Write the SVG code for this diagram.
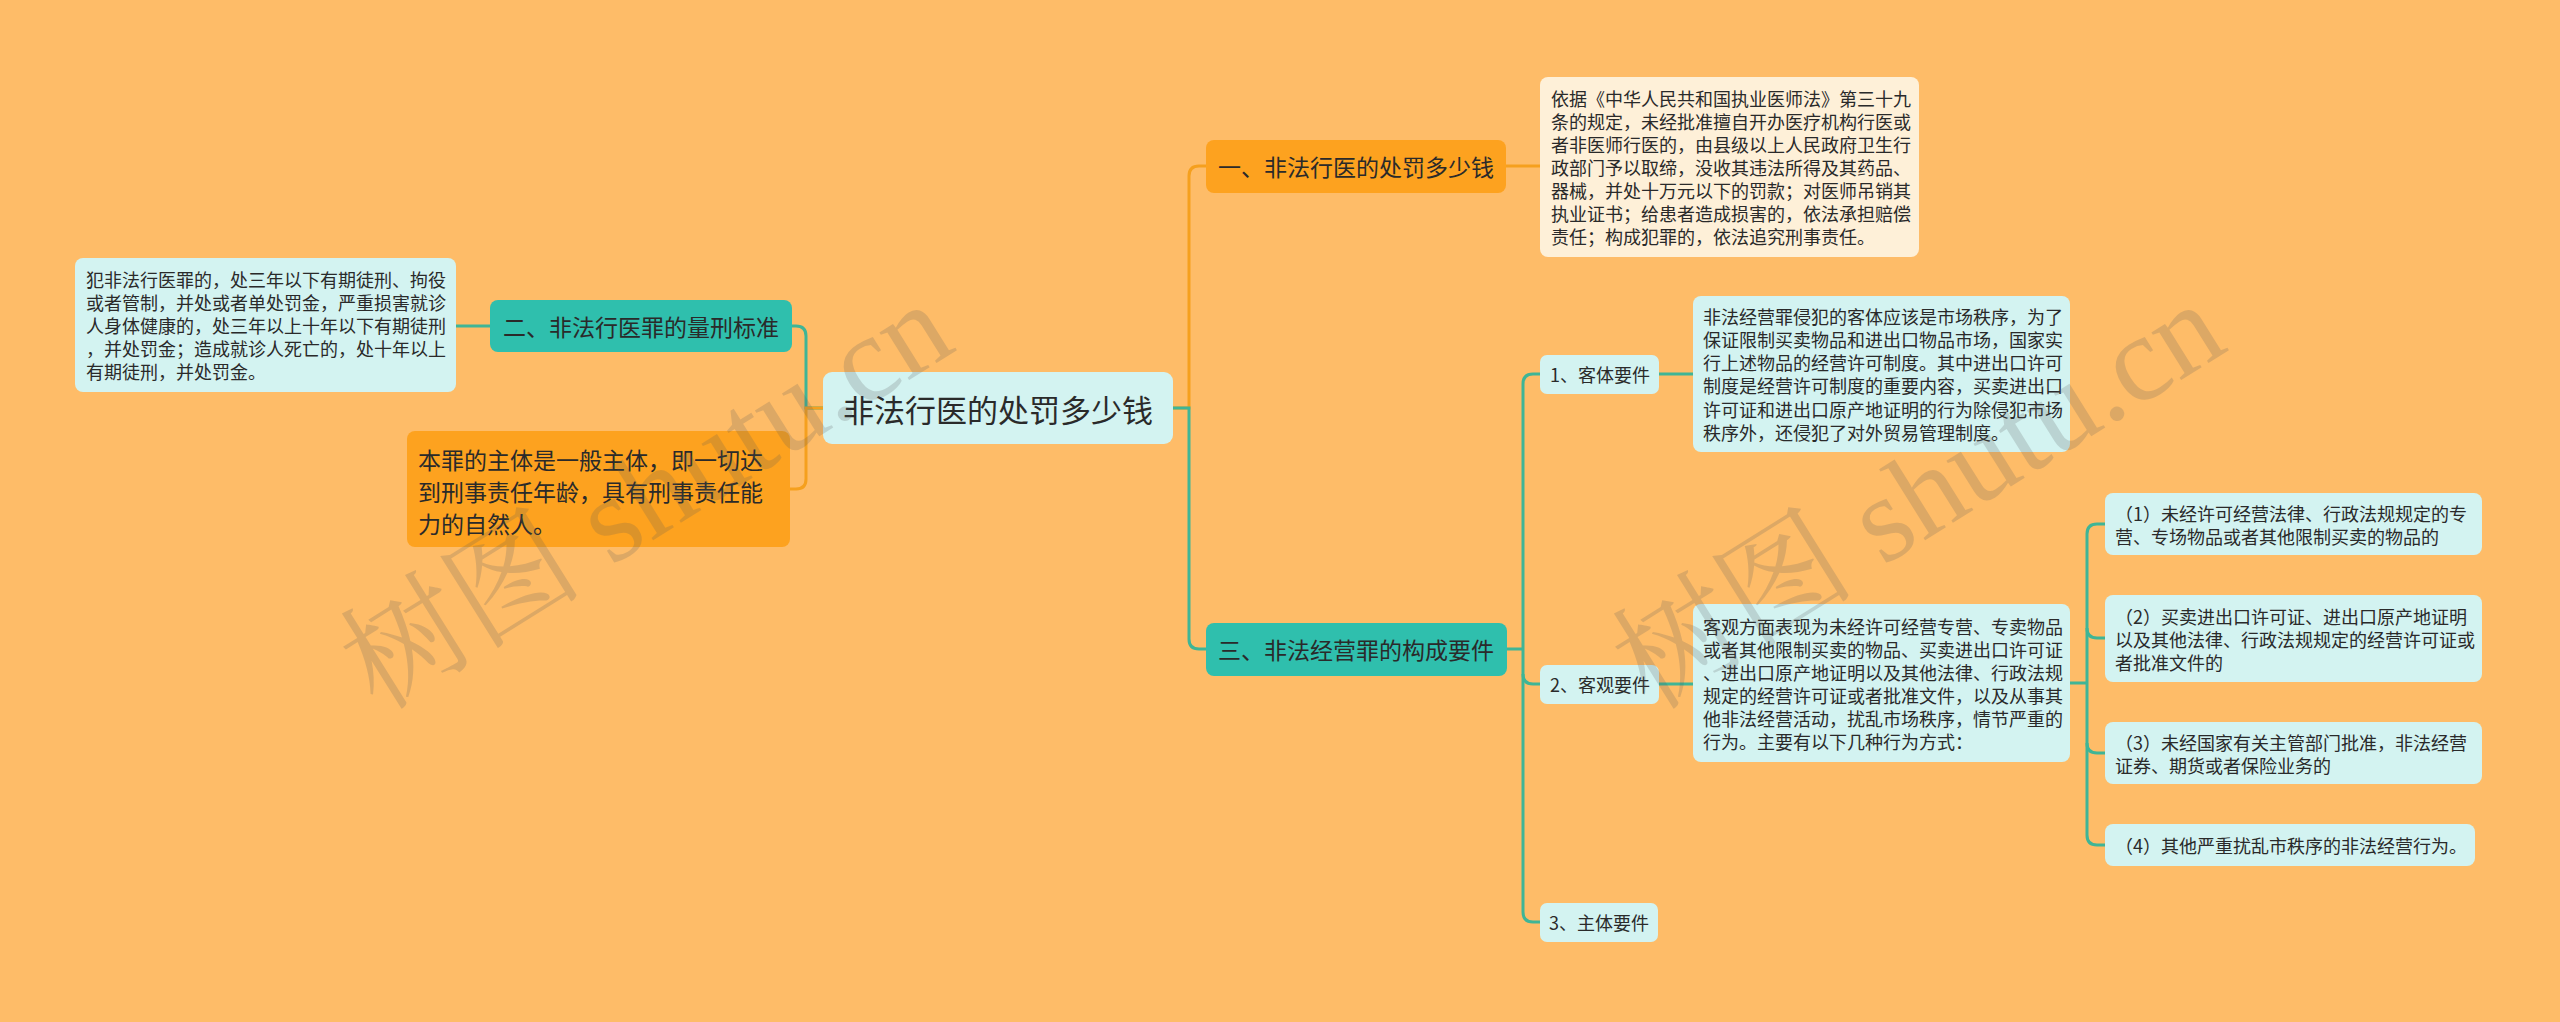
<svg xmlns="http://www.w3.org/2000/svg" width="2560" height="1022" viewBox="0 0 2560 1022">
<style>
text{font-family:"Noto Sans CJK SC","Noto Sans",sans-serif;fill:#2a2a2a;dominant-baseline:central}
.t18{font-size:18px}
.t23{font-size:23px}
.t31{font-size:31px}
.cyan{fill:#d3f3f1}
.cream{fill:#fef0d8}
.teal{fill:#2fbfad}
.orng{fill:#fda21f}
.lt{stroke:#3fb596;stroke-width:3;fill:none}
.lo{stroke:#f5a01e;stroke-width:3;fill:none}
.wm{font-family:"Liberation Serif","Noto Serif CJK SC","Noto Sans CJK SC",serif;font-size:122px;fill:#5a5a5a;opacity:0.2;dominant-baseline:auto}
</style>
<rect width="2560" height="1022" fill="#febc68"/>
<g id="connectors">
<path class="lo" d="M1173,408 H1189 V176 Q1189,166 1199,166 H1206"/>
<path class="lt" d="M1173,408 H1189 V639 Q1189,649 1199,649 H1206"/>
<path class="lt" d="M823,408 H806 V336 Q806,326 796,326 H792"/>
<path class="lo" d="M823,408 H806 V479 Q806,489 796,489 H790"/>
<path class="lt" d="M490,326 H456"/>
<path class="lo" d="M1506,166 H1540"/>
<path class="lt" d="M1507,649 H1523"/>
<path class="lt" d="M1540,374 H1533 Q1523,374 1523,384 V912 Q1523,922 1533,922 H1540"/>
<path class="lt" d="M1523,674 Q1523,684 1533,684 H1540"/>
<path class="lt" d="M1659,374 H1693"/>
<path class="lt" d="M1659,684 H1693"/>
<path class="lt" d="M2070,683 H2087"/>
<path class="lt" d="M2105,524 H2097 Q2087,524 2087,534 V835 Q2087,845 2097,845 H2105"/>
<path class="lt" d="M2087,628 Q2087,638 2097,638 H2105"/>
<path class="lt" d="M2087,743 Q2087,753 2097,753 H2105"/>
</g>
<g id="root">
<rect class="cyan" x="823" y="372" width="350" height="72" rx="9"/>
<text class="t31" x="998" y="408" text-anchor="middle">非法行医的处罚多少钱</text>
</g>
<g id="branch1">
<rect class="orng" x="1206" y="140" width="300" height="53" rx="8"/>
<text class="t23" x="1356" y="166" text-anchor="middle">一、非法行医的处罚多少钱</text>
</g>
<g id="leaf1">
<rect class="cream" x="1540" y="77" width="379" height="180" rx="8"/>
<text class="t18" x="1551" y="98">依据《中华人民共和国执业医师法》第三十九</text>
<text class="t18" x="1551" y="121">条的规定，未经批准擅自开办医疗机构行医或</text>
<text class="t18" x="1551" y="144">者非医师行医的，由县级以上人民政府卫生行</text>
<text class="t18" x="1551" y="167">政部门予以取缔，没收其违法所得及其药品、</text>
<text class="t18" x="1551" y="190">器械，并处十万元以下的罚款；对医师吊销其</text>
<text class="t18" x="1551" y="213">执业证书；给患者造成损害的，依法承担赔偿</text>
<text class="t18" x="1551" y="236">责任；构成犯罪的，依法追究刑事责任。</text>
</g>
<g id="branch2">
<rect class="teal" x="490" y="300" width="302" height="52" rx="8"/>
<text class="t23" x="641" y="326" text-anchor="middle">二、非法行医罪的量刑标准</text>
</g>
<g id="leaf2">
<rect class="cyan" x="75" y="258" width="381" height="134" rx="8"/>
<text class="t18" x="86" y="279">犯非法行医罪的，处三年以下有期徒刑、拘役</text>
<text class="t18" x="86" y="302">或者管制，并处或者单处罚金，严重损害就诊</text>
<text class="t18" x="86" y="325">人身体健康的，处三年以上十年以下有期徒刑</text>
<text class="t18" x="86" y="348">，并处罚金；造成就诊人死亡的，处十年以上</text>
<text class="t18" x="86" y="371">有期徒刑，并处罚金。</text>
</g>
<g id="leaf-subject">
<rect class="orng" x="407" y="431" width="383" height="116" rx="8"/>
<text class="t23" x="418" y="459">本罪的主体是一般主体，即一切达</text>
<text class="t23" x="418" y="491">到刑事责任年龄，具有刑事责任能</text>
<text class="t23" x="418" y="523">力的自然人。</text>
</g>
<g id="branch3">
<rect class="teal" x="1206" y="623" width="301" height="53" rx="8"/>
<text class="t23" x="1356" y="649" text-anchor="middle">三、非法经营罪的构成要件</text>
</g>
<g id="c1">
<rect class="cyan" x="1540" y="355" width="119" height="39" rx="7"/>
<text class="t18" x="1600" y="374" text-anchor="middle">1、客体要件</text>
</g>
<g id="c1-leaf">
<rect class="cyan" x="1693" y="296" width="377" height="156" rx="8"/>
<text class="t18" x="1703" y="316">非法经营罪侵犯的客体应该是市场秩序，为了</text>
<text class="t18" x="1703" y="339">保证限制买卖物品和进出口物品市场，国家实</text>
<text class="t18" x="1703" y="362">行上述物品的经营许可制度。其中进出口许可</text>
<text class="t18" x="1703" y="385">制度是经营许可制度的重要内容，买卖进出口</text>
<text class="t18" x="1703" y="409">许可证和进出口原产地证明的行为除侵犯市场</text>
<text class="t18" x="1703" y="432">秩序外，还侵犯了对外贸易管理制度。</text>
</g>
<g id="c2">
<rect class="cyan" x="1540" y="665" width="119" height="39" rx="7"/>
<text class="t18" x="1600" y="684" text-anchor="middle">2、客观要件</text>
</g>
<g id="c2-leaf">
<rect class="cyan" x="1693" y="604" width="377" height="158" rx="8"/>
<text class="t18" x="1703" y="626">客观方面表现为未经许可经营专营、专卖物品</text>
<text class="t18" x="1703" y="649">或者其他限制买卖的物品、买卖进出口许可证</text>
<text class="t18" x="1703" y="672">、进出口原产地证明以及其他法律、行政法规</text>
<text class="t18" x="1703" y="695">规定的经营许可证或者批准文件，以及从事其</text>
<text class="t18" x="1703" y="718">他非法经营活动，扰乱市场秩序，情节严重的</text>
<text class="t18" x="1703" y="741">行为。主要有以下几种行为方式：</text>
</g>
<g id="s1">
<rect class="cyan" x="2105" y="493" width="377" height="62" rx="8"/>
<text class="t18" x="2115" y="513">（1）未经许可经营法律、行政法规规定的专</text>
<text class="t18" x="2115" y="536">营、专场物品或者其他限制买卖的物品的</text>
</g>
<g id="s2">
<rect class="cyan" x="2105" y="595" width="377" height="87" rx="8"/>
<text class="t18" x="2115" y="616">（2）买卖进出口许可证、进出口原产地证明</text>
<text class="t18" x="2115" y="639">以及其他法律、行政法规规定的经营许可证或</text>
<text class="t18" x="2115" y="662">者批准文件的</text>
</g>
<g id="s3">
<rect class="cyan" x="2105" y="722" width="377" height="62" rx="8"/>
<text class="t18" x="2115" y="742">（3）未经国家有关主管部门批准，非法经营</text>
<text class="t18" x="2115" y="765">证券、期货或者保险业务的</text>
</g>
<g id="s4">
<rect class="cyan" x="2105" y="824" width="370" height="42" rx="8"/>
<text class="t18" x="2115" y="845">（4）其他严重扰乱市秩序的非法经营行为。</text>
</g>
<g id="c3">
<rect class="cyan" x="1540" y="903" width="118" height="39" rx="7"/>
<text class="t18" x="1599" y="922" text-anchor="middle">3、主体要件</text>
</g>
<g id="watermark">
<text class="wm" transform="translate(378,712) rotate(-32)">树图 shutu.cn</text>
<text class="wm" transform="translate(1650,712) rotate(-32)">树图 shutu.cn</text>
</g>
</svg>
